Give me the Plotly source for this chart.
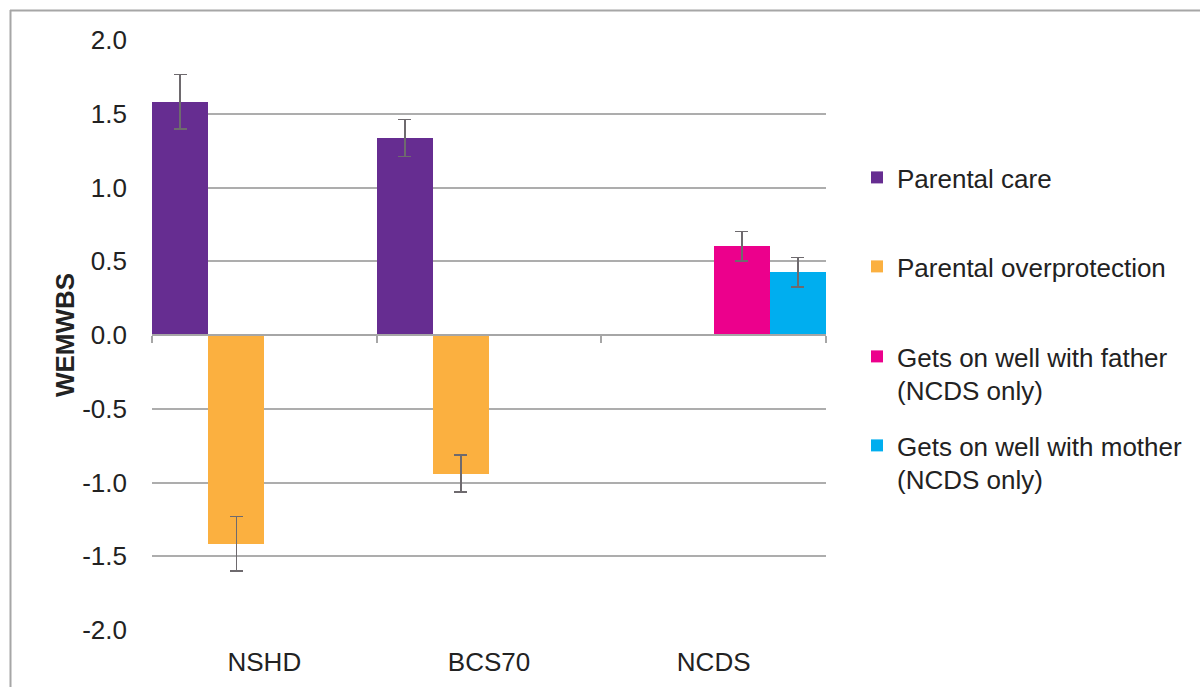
import plotly.graph_objects as go

categories = ["NSHD", "BCS70", "NCDS"]
series_names = ["Parental care", "Parental overprotection",
                "Gets on well with father<br>(NCDS only)",
                "Gets on well with mother<br>(NCDS only)"]
care = [1.58, 1.335, None]
care_err = [0.185, 0.125, None]
overprotection = [-1.415, -0.94, None]
overprotection_err = [0.185, 0.125, None]
father = [None, None, 0.603]
father_err = [None, None, 0.10]
mother = [None, None, 0.427]
mother_err = [None, None, 0.10]
colors = ["#662D91", "#FBB040", "#EC008C", "#00AEEF"]
y_ticks = [-2.0, -1.5, -1.0, -0.5, 0.0, 0.5, 1.0, 1.5, 2.0]
y_tick_labels = ["-2.0", "-1.5", "-1.0", "-0.5", "0.0", "0.5", "1.0", "1.5", "2.0"]

W, H = 1200, 687
L, R, T, B = 152, 374, 40, 57
pw, ph = W - L - R, H - T - B

def px(x):
    return (x - L) / pw

def py(y):
    return (H - B - y) / ph

legend_ids = ["legend", "legend2", "legend3", "legend4"]
legend_tops = [154, 243, 333, 422]
font_color = "#222222"

fig = go.Figure()
values = [care, overprotection, father, mother]
errs = [care_err, overprotection_err, father_err, mother_err]
for name, v, e, c, lg in zip(series_names, values, errs, colors, legend_ids):
    fig.add_trace(go.Bar(
        x=categories, y=v, name=name, marker=dict(color=c, line=dict(width=0)),
        legend=lg,
        error_y=dict(type="data", array=e, visible=True, color="#6E6A6E",
                     thickness=1.5, width=6.5),
    ))

# invisible trace carrying the zero-crossing category axis
fig.add_trace(go.Scatter(x=categories, y=[0, 0, 0], xaxis="x2", mode="markers",
                         marker=dict(opacity=0), showlegend=False, hoverinfo="skip"))

legend_layout = {}
for lg, top in zip(legend_ids, legend_tops):
    legend_layout[lg] = dict(x=px(857), xanchor="left", y=py(top), yanchor="top",
                             valign="top", font=dict(size=26, color=font_color),
                             bgcolor="rgba(0,0,0,0)")

fig.update_layout(
    width=W, height=H,
    margin=dict(l=L, r=R, t=T, b=B, autoexpand=False),
    paper_bgcolor="white", plot_bgcolor="white",
    font=dict(family="Liberation Sans, Arial, sans-serif", size=26, color=font_color),
    barmode="group", bargap=0, bargroupgap=0,
    showlegend=True,
    xaxis=dict(range=[-0.5, 2.5], showgrid=False, showline=False, ticks="",
               zeroline=False, ticklabelstandoff=14,
               tickfont=dict(size=26, color=font_color)),
    xaxis2=dict(overlaying="x", anchor="free", position=0.5, range=[-0.5, 2.5],
                showline=True, linecolor="#A6A6A6", linewidth=2,
                ticks="outside", tickson="boundaries", ticklen=7, tickwidth=2,
                tickcolor="#A6A6A6", showticklabels=False, showgrid=False,
                zeroline=False),
    yaxis=dict(range=[-2, 2], tickvals=y_ticks, ticktext=y_tick_labels,
               showgrid=True, gridcolor="#ADADAD", gridwidth=1.5,
               zeroline=True, zerolinecolor="#A6A6A6", zerolinewidth=2,
               showline=False, ticks="", ticklabelstandoff=24,
               tickfont=dict(size=26, color=font_color),
               title=dict(text="<b>WEMWBS</b>", standoff=0,
                          font=dict(size=26, color=font_color))),
    shapes=[
        dict(type="line", xref="paper", yref="paper", x0=px(10), x1=px(1205),
             y0=py(10.5), y1=py(10.5), line=dict(color="#A6A6A6", width=2)),
        dict(type="line", xref="paper", yref="paper", x0=px(10.5), x1=px(10.5),
             y0=py(10), y1=py(700), line=dict(color="#A6A6A6", width=2)),
    ],
    **legend_layout,
)

fig.write_html("out.html", config={"displayModeBar": False},
               post_script="document.body.style.margin='0';")
